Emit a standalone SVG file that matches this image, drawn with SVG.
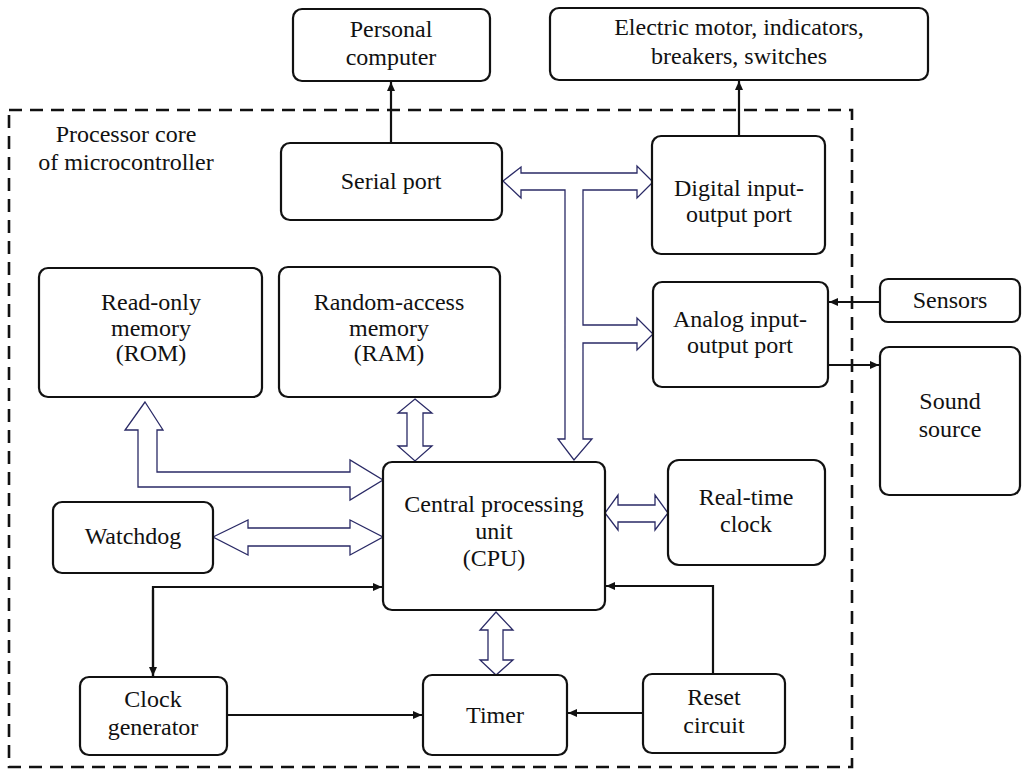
<svg xmlns="http://www.w3.org/2000/svg" width="1033" height="771" viewBox="0 0 1033 771">
<style>
.box{fill:#fff;stroke:#111;stroke-width:2.2}
.t{font-family:'Liberation Serif','Times New Roman',serif;font-size:24px;fill:#111;text-anchor:middle}
.bus{fill:#fff;stroke:#2a2a66;stroke-width:1.3;stroke-linejoin:miter}
.ln{fill:none;stroke:#111;stroke-width:2.2}
.dash{fill:none;stroke:#111;stroke-width:2.6;stroke-dasharray:13 8}
</style>
<defs>
<marker id="ah" markerWidth="10" markerHeight="10" refX="9" refY="5" orient="auto" markerUnits="userSpaceOnUse">
<path d="M0,1 L9,5 L0,9 Z" fill="#111"/>
</marker>
</defs>
<rect width="1033" height="771" fill="#fff"/>
<g id="core">
<rect class="dash" x="9" y="110" width="843" height="657"/>
<text class="t" x="126" y="142">Processor core</text>
<text class="t" x="126" y="170">of microcontroller</text>
</g>
<g id="connectors">
<line class="ln" x1="391" y1="143" x2="391" y2="82" marker-end="url(#ah)"/>
<line class="ln" x1="739" y1="136" x2="739" y2="81" marker-end="url(#ah)"/>
<line class="ln" x1="880" y1="302" x2="829" y2="302" stroke-width="1.6" marker-end="url(#ah)"/>
<line class="ln" x1="828" y1="365" x2="879" y2="365" stroke-width="1.6" marker-end="url(#ah)"/>
<polyline class="ln" points="153,676 153,587 382,587" marker-end="url(#ah)"/>
<line class="ln" x1="153" y1="590" x2="153" y2="676" marker-end="url(#ah)"/>
<line class="ln" x1="227" y1="715" x2="422" y2="715" marker-end="url(#ah)"/>
<line class="ln" x1="643" y1="713" x2="568" y2="713" marker-end="url(#ah)"/>
<polyline class="ln" points="713,674 713,586 606,586" marker-end="url(#ah)"/>
<path class="bus" d="M503,181 L521,167 L521,173 L637,173 L637,166 L653,182 L637,198 L637,190 L583,190 L583,325 L637,325 L637,318 L653,334 L637,350 L637,343 L583,343 L583,439 L592,439 L574,460 L558,439 L565,439 L565,190 L521,190 L521,198 Z"/>
<path class="bus" d="M145,402 L163,430 L157,430 L157,472 L350,472 L350,460 L383,480 L350,500 L350,487 L138,487 L138,430 L125,430 Z"/>
<path class="bus" d="M213,537 L248,520 L248,528 L350,528 L350,520 L383,537 L350,555 L350,546 L248,546 L248,555 Z"/>
<path class="bus" d="M415,399 L432,413 L423,413 L423,446 L432,446 L415,461 L398,446 L407,446 L407,413 L398,413 Z"/>
<path class="bus" d="M605,513 L618,495 L618,505 L655,505 L655,495 L668,513 L655,530 L655,522 L618,522 L618,530 Z"/>
<path class="bus" d="M496,612 L513,630 L503,630 L503,660 L513,660 L496,675 L480,660 L488,660 L488,630 L480,630 Z"/>
</g>

<g id="pc"><rect class="box" x="293" y="9" width="197" height="72" rx="9"/>
<text class="t" x="391" y="37">Personal</text><text class="t" x="391" y="65">computer</text></g>
<g id="motor"><rect class="box" x="550" y="8" width="378" height="72" rx="9"/>
<text class="t" x="739" y="35">Electric motor, indicators,</text><text class="t" x="739" y="64">breakers, switches</text></g>
<g id="serial"><rect class="box" x="281" y="143" width="221" height="77" rx="9"/>
<text class="t" x="391" y="189">Serial port</text></g>
<g id="digital"><rect class="box" x="652" y="136" width="173" height="118" rx="9"/>
<text class="t" x="739" y="196">Digital input-</text><text class="t" x="739" y="222">output port</text></g>
<g id="rom"><rect class="box" x="39" y="268" width="223" height="129" rx="9"/>
<text class="t" x="151" y="310">Read-only</text><text class="t" x="151" y="336">memory</text><text class="t" x="151" y="361">(ROM)</text></g>
<g id="ram"><rect class="box" x="279" y="267" width="221" height="130" rx="9"/>
<text class="t" x="389" y="310">Random-access</text><text class="t" x="389" y="336">memory</text><text class="t" x="389" y="361">(RAM)</text></g>
<g id="analog"><rect class="box" x="653" y="282" width="175" height="105" rx="9"/>
<text class="t" x="740" y="327">Analog input-</text><text class="t" x="740" y="353">output port</text></g>
<g id="sensors"><rect class="box" x="880" y="279" width="140" height="43" rx="8"/>
<text class="t" x="950" y="308">Sensors</text></g>
<g id="sound"><rect class="box" x="880" y="347" width="140" height="148" rx="9"/>
<text class="t" x="950" y="409">Sound</text><text class="t" x="950" y="437">source</text></g>
<g id="cpu"><rect class="box" x="383" y="462" width="222" height="148" rx="9"/>
<text class="t" x="494" y="512">Central processing</text><text class="t" x="494" y="539">unit</text><text class="t" x="494" y="566">(CPU)</text></g>
<g id="rtc"><rect class="box" x="668" y="460" width="157" height="105" rx="11"/>
<text class="t" x="746" y="505">Real-time</text><text class="t" x="746" y="532">clock</text></g>
<g id="watchdog"><rect class="box" x="53" y="502" width="160" height="71" rx="9"/>
<text class="t" x="133" y="544">Watchdog</text></g>
<g id="clockgen"><rect class="box" x="80" y="677" width="147" height="78" rx="9"/>
<text class="t" x="153" y="707">Clock</text><text class="t" x="153" y="735">generator</text></g>
<g id="timer"><rect class="box" x="423" y="675" width="144" height="80" rx="9"/>
<text class="t" x="495" y="723">Timer</text></g>
<g id="reset"><rect class="box" x="643" y="674" width="142" height="79" rx="9"/>
<text class="t" x="714" y="705">Reset</text><text class="t" x="714" y="733">circuit</text></g>
</svg>
